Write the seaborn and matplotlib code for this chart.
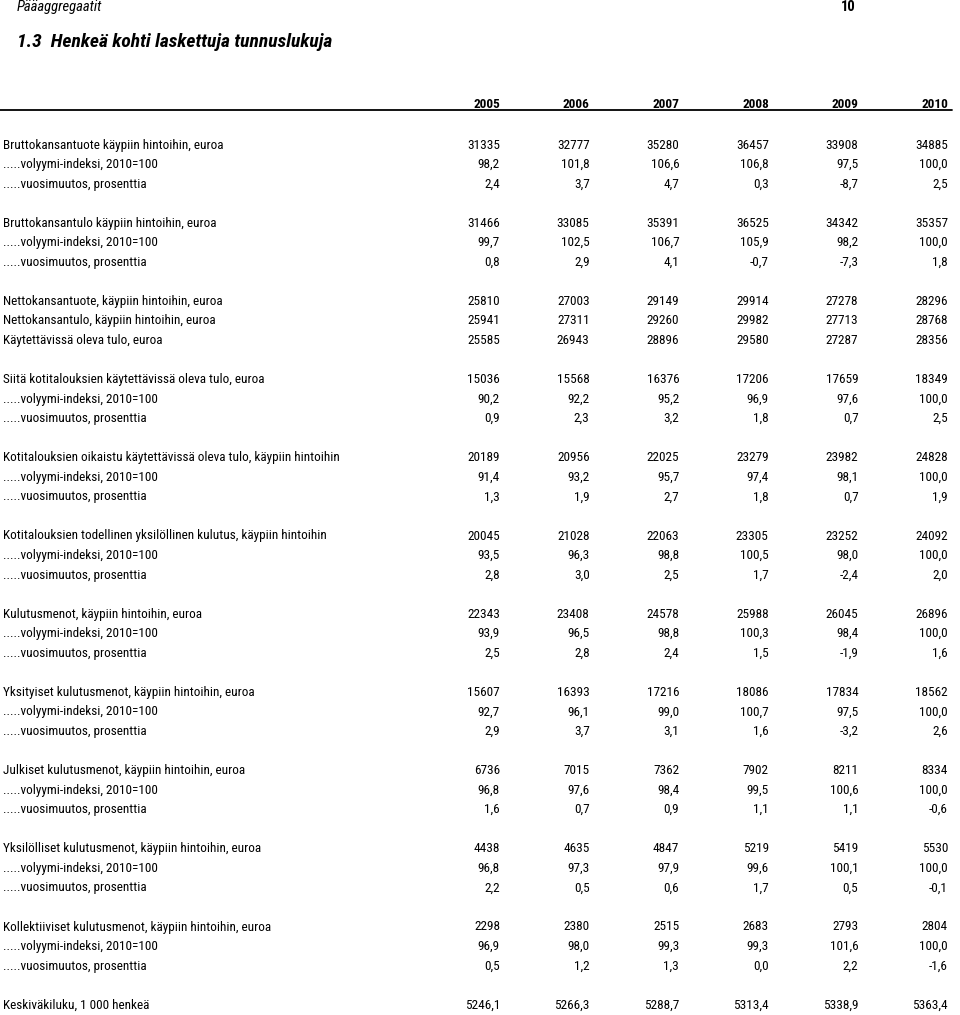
import matplotlib
matplotlib.use("Agg")
import matplotlib.pyplot as plt
import pandas as pd
import seaborn as sns

# table data
years = [2005, 2006, 2007, 2008, 2009, 2010]

vol = ".....volyymi-indeksi, 2010=100"
muutos = ".....vuosimuutos, prosenttia"

row_labels = [
    "Bruttokansantuote käypiin hintoihin, euroa", vol, muutos, None,
    "Bruttokansantulo käypiin hintoihin, euroa", vol, muutos, None,
    "Nettokansantuote, käypiin hintoihin, euroa",
    "Nettokansantulo, käypiin hintoihin, euroa",
    "Käytettävissä oleva tulo, euroa", None,
    "Siitä kotitalouksien käytettävissä oleva tulo, euroa", vol, muutos, None,
    "Kotitalouksien oikaistu käytettävissä oleva tulo, käypiin hintoihin", vol, muutos, None,
    "Kotitalouksien todellinen yksilöllinen kulutus, käypiin hintoihin", vol, muutos, None,
    "Kulutusmenot, käypiin hintoihin, euroa", vol, muutos, None,
    "Yksityiset kulutusmenot, käypiin hintoihin, euroa", vol, muutos, None,
    "Julkiset kulutusmenot, käypiin hintoihin, euroa", vol, muutos, None,
    "Yksilölliset kulutusmenot, käypiin hintoihin, euroa", vol, muutos, None,
    "Kollektiiviset kulutusmenot, käypiin hintoihin, euroa", vol, muutos, None,
    "Keskiväkiluku, 1 000 henkeä",
]

row_values = [
    [31335, 32777, 35280, 36457, 33908, 34885],
    [98.2, 101.8, 106.6, 106.8, 97.5, 100.0],
    [2.4, 3.7, 4.7, 0.3, -8.7, 2.5],
    None,
    [31466, 33085, 35391, 36525, 34342, 35357],
    [99.7, 102.5, 106.7, 105.9, 98.2, 100.0],
    [0.8, 2.9, 4.1, -0.7, -7.3, 1.8],
    None,
    [25810, 27003, 29149, 29914, 27278, 28296],
    [25941, 27311, 29260, 29982, 27713, 28768],
    [25585, 26943, 28896, 29580, 27287, 28356],
    None,
    [15036, 15568, 16376, 17206, 17659, 18349],
    [90.2, 92.2, 95.2, 96.9, 97.6, 100.0],
    [0.9, 2.3, 3.2, 1.8, 0.7, 2.5],
    None,
    [20189, 20956, 22025, 23279, 23982, 24828],
    [91.4, 93.2, 95.7, 97.4, 98.1, 100.0],
    [1.3, 1.9, 2.7, 1.8, 0.7, 1.9],
    None,
    [20045, 21028, 22063, 23305, 23252, 24092],
    [93.5, 96.3, 98.8, 100.5, 98.0, 100.0],
    [2.8, 3.0, 2.5, 1.7, -2.4, 2.0],
    None,
    [22343, 23408, 24578, 25988, 26045, 26896],
    [93.9, 96.5, 98.8, 100.3, 98.4, 100.0],
    [2.5, 2.8, 2.4, 1.5, -1.9, 1.6],
    None,
    [15607, 16393, 17216, 18086, 17834, 18562],
    [92.7, 96.1, 99.0, 100.7, 97.5, 100.0],
    [2.9, 3.7, 3.1, 1.6, -3.2, 2.6],
    None,
    [6736, 7015, 7362, 7902, 8211, 8334],
    [96.8, 97.6, 98.4, 99.5, 100.6, 100.0],
    [1.6, 0.7, 0.9, 1.1, 1.1, -0.6],
    None,
    [4438, 4635, 4847, 5219, 5419, 5530],
    [96.8, 97.3, 97.9, 99.6, 100.1, 100.0],
    [2.2, 0.5, 0.6, 1.7, 0.5, -0.1],
    None,
    [2298, 2380, 2515, 2683, 2793, 2804],
    [96.9, 98.0, 99.3, 99.3, 101.6, 100.0],
    [0.5, 1.2, 1.3, 0.0, 2.2, -1.6],
    None,
    [5246.1, 5266.3, 5288.7, 5313.4, 5338.9, 5363.4],
]


def decimals(label):
    # index and percentage rows (and population) carry one decimal
    if label.startswith(".....") or label.startswith("Keskiväkiluku"):
        return 1
    return 0


def fmt(v, d):
    return f"{v:.{d}f}".replace(".", ",")


sns.set_theme(style="white")
# narrow face close to the Arial Narrow of the original
plt.rcParams["font.family"] = ["Roboto Condensed", "Liberation Sans", "DejaVu Sans"]

body = 9.5
fig = plt.figure(figsize=(9.6, 10.15), dpi=100)
ax = fig.add_axes([0, 0, 1, 1])
ax.set_xlim(0, 960)
ax.set_ylim(1015, 0)
ax.axis("off")

# layout of the table (pixel-like units)
label_x = 3
col_right = [500 + 89.6 * j for j in range(len(years))]
row0_y = 145
row_h = 19.55

ax.text(17, 7, "Pääaggregaatit", fontsize=10.5, style="italic",
        ha="left", va="center", color="black")
ax.text(856, 7, "10", fontsize=10.5, weight="bold",
        ha="right", va="center", color="black")
ax.text(17, 42, "1.3  Henkeä kohti laskettuja tunnuslukuja", fontsize=14,
        weight="bold", style="italic", ha="left", va="center", color="black")

for x, yr in zip(col_right, years):
    ax.text(x, 104, str(yr), fontsize=body, weight="bold",
            ha="right", va="center", color="black")
ax.axhline(110, xmin=0, xmax=952 / 960, color="black", lw=1.3)

df = pd.DataFrame(
    [v if v is not None else [None] * len(years) for v in row_values],
    columns=years,
)
df.insert(0, "label", row_labels)

for i, row in df.iterrows():
    if row["label"] is None:
        continue
    y = row0_y + row_h * i
    d = decimals(row["label"])
    ax.text(label_x, y, row["label"], fontsize=body, ha="left",
            va="center", color="black")
    for x, yr in zip(col_right, years):
        ax.text(x, y, fmt(row[yr], d), fontsize=body, ha="right",
                va="center", color="black")

fig.savefig("out.png", dpi=100, facecolor="white")
